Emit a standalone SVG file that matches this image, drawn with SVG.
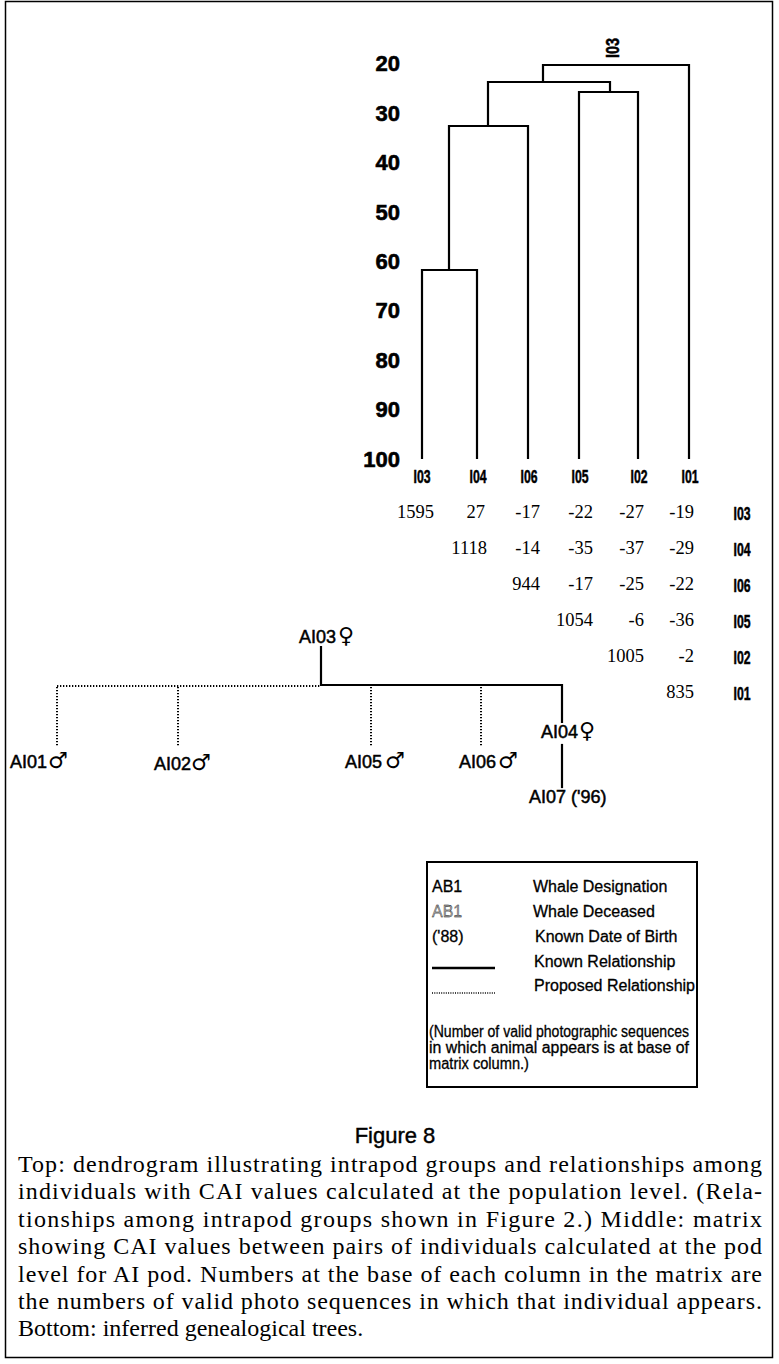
<svg xmlns="http://www.w3.org/2000/svg" width="779" height="1364" viewBox="0 0 779 1364">
<style>
.ax{font-family:"Liberation Sans",Arial,sans-serif;font-weight:bold;font-size:22px;text-anchor:end;stroke:#000;stroke-width:0.6}
.lf{font-family:"Liberation Sans",Arial,sans-serif;font-weight:bold;font-size:18px;text-anchor:middle;stroke:#000;stroke-width:0.5}
.mx{font-family:"Liberation Serif","Times New Roman",serif;font-size:18.5px;text-anchor:end}
.nm{font-family:"Liberation Sans",Arial,sans-serif;font-size:18px;stroke:#000;stroke-width:0.5}
.sym{font-family:"DejaVu Sans",sans-serif;font-size:22px;stroke:none}
.lg{font-family:"Liberation Sans",Arial,sans-serif;font-size:16px;stroke:#000;stroke-width:0.3}
.cap{font-family:"Liberation Serif","Times New Roman",serif;font-size:24px}
.fig{font-family:"Liberation Sans",Arial,sans-serif;font-size:22px;text-anchor:middle;stroke:#000;stroke-width:0.4}
.ln{fill:none;stroke:#000;stroke-width:2.2;stroke-linecap:square}
.dt{fill:none;stroke:#000;stroke-width:2;stroke-dasharray:1.3 1.7}
</style>
<rect x="5.5" y="1.5" width="767" height="1356" fill="#fff" stroke="#000" stroke-width="1.5"/>

<g id="axis">
<text class="ax" x="400" y="71">20</text>
<text class="ax" x="400" y="121">30</text>
<text class="ax" x="400" y="170">40</text>
<text class="ax" x="400" y="220">50</text>
<text class="ax" x="400" y="269">60</text>
<text class="ax" x="400" y="318">70</text>
<text class="ax" x="400" y="368">80</text>
<text class="ax" x="400" y="417">90</text>
<text class="ax" x="400" y="467">100</text>
</g>

<g id="connectors">
<path class="ln" d="M422,458 V270 H477 V458"/>
<path class="ln" d="M449,270 V126 H528 V458"/>
<path class="ln" d="M488,126 V82 H610 V92"/>
<path class="ln" d="M579,458 V92 H638 V458"/>
<path class="ln" d="M543,82 V65 H689 V458"/>
<path class="ln" d="M321,647 V685 H562 V722"/>
<path class="ln" d="M562,745 V787"/>
<path class="dt" d="M57,686 H320"/>
<path class="dt" d="M57,687 V746"/>
<path class="dt" d="M178,687 V746"/>
<path class="dt" d="M371,687 V746"/>
<path class="dt" d="M481,687 V746"/>
</g>

<g id="top-label"><text class="lf" font-size="13" stroke-width="0.3" transform="translate(619,48) rotate(-90)" textLength="20" lengthAdjust="spacingAndGlyphs">I03</text></g>

<g id="leaf-I03"><text class="lf" x="422" y="483" textLength="17" lengthAdjust="spacingAndGlyphs">I03</text></g>
<g id="leaf-I04"><text class="lf" x="478" y="483" textLength="17" lengthAdjust="spacingAndGlyphs">I04</text></g>
<g id="leaf-I06"><text class="lf" x="529" y="483" textLength="17" lengthAdjust="spacingAndGlyphs">I06</text></g>
<g id="leaf-I05"><text class="lf" x="580" y="483" textLength="17" lengthAdjust="spacingAndGlyphs">I05</text></g>
<g id="leaf-I02"><text class="lf" x="639" y="483" textLength="17" lengthAdjust="spacingAndGlyphs">I02</text></g>
<g id="leaf-I01"><text class="lf" x="690" y="483" textLength="17" lengthAdjust="spacingAndGlyphs">I01</text></g>

<g id="matrix">
<text class="mx" x="434" y="518">1595</text><text class="mx" x="485" y="518">27</text><text class="mx" x="540" y="518">-17</text><text class="mx" x="593" y="518">-22</text><text class="mx" x="644" y="518">-27</text><text class="mx" x="694" y="518">-19</text>
<text class="mx" x="487" y="554">1118</text><text class="mx" x="540" y="554">-14</text><text class="mx" x="593" y="554">-35</text><text class="mx" x="644" y="554">-37</text><text class="mx" x="694" y="554">-29</text>
<text class="mx" x="540" y="590">944</text><text class="mx" x="593" y="590">-17</text><text class="mx" x="644" y="590">-25</text><text class="mx" x="694" y="590">-22</text>
<text class="mx" x="593" y="626">1054</text><text class="mx" x="644" y="626">-6</text><text class="mx" x="694" y="626">-36</text>
<text class="mx" x="644" y="662">1005</text><text class="mx" x="694" y="662">-2</text>
<text class="mx" x="694" y="698">835</text>
<text class="lf" x="742" y="520" textLength="17" lengthAdjust="spacingAndGlyphs">I03</text>
<text class="lf" x="742" y="556" textLength="17" lengthAdjust="spacingAndGlyphs">I04</text>
<text class="lf" x="742" y="592" textLength="17" lengthAdjust="spacingAndGlyphs">I06</text>
<text class="lf" x="742" y="628" textLength="17" lengthAdjust="spacingAndGlyphs">I05</text>
<text class="lf" x="742" y="664" textLength="17" lengthAdjust="spacingAndGlyphs">I02</text>
<text class="lf" x="742" y="700" textLength="17" lengthAdjust="spacingAndGlyphs">I01</text>
</g>

<g id="AI03"><text class="nm" x="299" y="643">AI03<tspan class="sym" dx="2">♀</tspan></text></g>
<g id="AI01"><text class="nm" x="10" y="768">AI01<tspan class="sym" dx="1">♂</tspan></text></g>
<g id="AI02"><text class="nm" x="154" y="770">AI02<tspan class="sym" dx="0">♂</tspan></text></g>
<g id="AI05"><text class="nm" x="345" y="768">AI05<tspan class="sym" dx="3">♂</tspan></text></g>
<g id="AI06"><text class="nm" x="459" y="768">AI06<tspan class="sym" dx="2">♂</tspan></text></g>
<g id="AI04"><text class="nm" x="541" y="738">AI04<tspan class="sym" dx="1">♀</tspan></text></g>
<g id="AI07"><text class="nm" x="529" y="803" font-size="16" stroke-width="0.4">AI07 ('96)</text></g>

<g id="legend">
<rect x="427" y="862" width="270" height="225" fill="none" stroke="#000" stroke-width="2"/>
<text class="lg" x="432" y="892">AB1</text><text class="lg" x="533" y="892">Whale Designation</text>
<text class="lg" x="432" y="917" fill="#aaa" stroke="#666">AB1</text><text class="lg" x="533" y="917">Whale Deceased</text>
<text class="lg" x="432" y="942">('88)</text><text class="lg" x="535" y="942">Known Date of Birth</text>
<line x1="432" y1="968" x2="495" y2="968" stroke="#000" stroke-width="2.4"/><text class="lg" x="534" y="967">Known Relationship</text>
<line x1="432" y1="993" x2="495" y2="993" stroke="#000" stroke-width="1.6" stroke-dasharray="1 1.3"/><text class="lg" x="534" y="991">Proposed Relationship</text>
<text class="lg" x="429" y="1037" font-size="15.5" textLength="260" lengthAdjust="spacingAndGlyphs">(Number of valid photographic sequences</text>
<text class="lg" x="429" y="1053" font-size="15.5" textLength="260" lengthAdjust="spacingAndGlyphs">in which animal appears is at base of</text>
<text class="lg" x="429" y="1069" font-size="15.5" textLength="100" lengthAdjust="spacingAndGlyphs">matrix column.)</text>
</g>

<g id="caption">
<text class="fig" x="395" y="1143">Figure 8</text>
<text class="cap" x="18" y="1172" textLength="744" lengthAdjust="spacing">Top: dendrogram illustrating intrapod groups and relationships among</text>
<text class="cap" x="18" y="1199" textLength="744" lengthAdjust="spacing">individuals with CAI values calculated at the population level. (Rela-</text>
<text class="cap" x="18" y="1227" textLength="744" lengthAdjust="spacing">tionships among intrapod groups shown in Figure 2.) Middle: matrix</text>
<text class="cap" x="18" y="1254" textLength="744" lengthAdjust="spacing">showing CAI values between pairs of individuals calculated at the pod</text>
<text class="cap" x="18" y="1282" textLength="744" lengthAdjust="spacing">level for AI pod. Numbers at the base of each column in the matrix are</text>
<text class="cap" x="18" y="1309" textLength="744" lengthAdjust="spacing">the numbers of valid photo sequences in which that individual appears.</text>
<text class="cap" x="18" y="1336">Bottom: inferred genealogical trees.</text>
</g>
</svg>
